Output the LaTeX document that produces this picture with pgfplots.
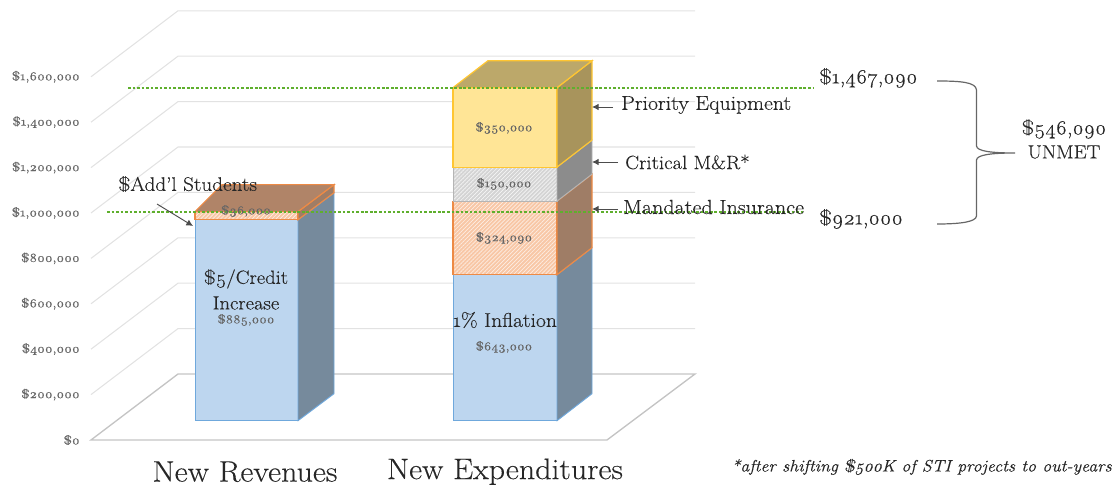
\documentclass[border=0pt]{standalone}
\usepackage{fontspec}
\usepackage{pgfplots}
\pgfplotsset{compat=1.18}
\usetikzlibrary{patterns,patterns.meta,arrows.meta}
\setmainfont{Latin Modern Roman}[Numbers=OldStyle,FakeStretch=1.08,FakeBold=0.3]
\definecolor{tickc}{HTML}{666666}
\definecolor{gridc}{HTML}{E2E2E2}
\definecolor{floorc}{HTML}{C4C4C4}
\definecolor{greenl}{RGB}{95,175,45}
\definecolor{bluef}{HTML}{BDD6EF}\definecolor{bluee}{HTML}{6FA8DC}\definecolor{blues}{HTML}{768A9C}
\definecolor{orangef}{HTML}{F8C7A6}\definecolor{orangee}{HTML}{ED8A45}\definecolor{oranges}{HTML}{9F7D66}\definecolor{oranget}{HTML}{B08468}
\definecolor{greyf}{HTML}{D4D4D4}\definecolor{greye}{HTML}{B5B5B5}\definecolor{greys}{HTML}{8C8C8C}
\definecolor{yellowf}{HTML}{FFE596}\definecolor{yellowe}{HTML}{FFC632}\definecolor{yellows}{HTML}{A8945C}\definecolor{yellowt}{HTML}{BCA86A}
\pgfplotsset{base/.style={
  scale only axis,width=837.75pt,height=368.25pt,
  xmin=0,xmax=1117,clip=false,
  axis line style={draw=none},tick style={draw=none},
  major tick length=0pt,scaled x ticks=false,scaled y ticks=false}}
\tikzset{
  hatchf/.style={postaction={pattern={Lines[angle=45,distance=2.1pt,line width=0.5pt]},pattern color=white!70!orangef}},
  hatchg/.style={postaction={pattern={Lines[angle=45,distance=2.1pt,line width=0.5pt]},pattern color=white!80!greyf}},
  dlab/.style={text=tickc,font=\fontsize{9}{10}\selectfont,inner sep=0pt},
  big/.style={text=black!85,font=\fontsize{#1}{16}\selectfont,inner sep=0pt},
  big/.default=14.3,
  ann/.style={black!70,line width=0.7pt,-{Latex[length=5pt,width=5pt]}}
}
\begin{document}
\begin{tikzpicture}
% back wall, floor and value axis: y=0 on the front edge of the floor
\begin{axis}[base,ymin=-224670,ymax=1938326,xtick=\empty,
  ytick={0,200000,400000,600000,800000,1000000,1200000,1400000,1600000},
  yticklabels={\$0,{\$200,000},{\$400,000},{\$600,000},{\$800,000},{\$1,000,000},{\$1,200,000},{\$1,400,000},{\$1,600,000}},
  yticklabel style={anchor=east,xshift=60pt,text=tickc,font=\fontsize{9.2}{10}\selectfont,inner sep=0pt}]
\addplot[gridc,line width=0.8pt] coordinates {(91,1600000)(178,1890749)(695,1890749)};
\addplot[gridc,line width=0.8pt] coordinates {(91,1400000)(178,1690749)(695,1690749)};
\addplot[gridc,line width=0.8pt] coordinates {(91,1200000)(178,1490749)(695,1490749)};
\addplot[gridc,line width=0.8pt] coordinates {(91,1000000)(178,1290749)(695,1290749)};
\addplot[gridc,line width=0.8pt] coordinates {(91,800000)(178,1090749)(695,1090749)};
\addplot[gridc,line width=0.8pt] coordinates {(91,600000)(178,890749)(695,890749)};
\addplot[gridc,line width=0.8pt] coordinates {(91,400000)(178,690749)(695,690749)};
\addplot[gridc,line width=0.8pt] coordinates {(91,200000)(178,490749)(695,490749)};
\addplot[floorc,line width=1pt] coordinates {(91,0)(178,290749)(695,290749)(607,0)(91,0)} -- cycle;
\end{axis}
% bars: y=0 on the front foot of the bars
\begin{axis}[base,ymin=-309692,ymax=1853304,ytick=\empty,
  xtick={245,505},xticklabels={New Revenues,New Expenditures},
  xticklabel style={anchor=center,yshift=14.5pt,text=black!85,font=\fontsize{22.2}{24}\selectfont,inner sep=0pt}]
% New Revenues
\addplot[fill=bluef,draw=bluee,line width=0.7pt] coordinates {(195,0)(298,0)(298,885000)(195,885000)} -- cycle;
\addplot[fill=blues,draw=bluee,line width=0.7pt] coordinates {(298,0)(334,118943)(334,1003943)(298,885000)} -- cycle;
\addplot[fill=orangef,draw=orangee,line width=0.9pt,hatchf] coordinates {(195,885000)(298,885000)(298,921000)(195,921000)} -- cycle;
\addplot[fill=oranges,draw=orangee,line width=0.9pt] coordinates {(298,885000)(334,1003943)(334,1039943)(298,921000)} -- cycle;
\addplot[fill=oranget,draw=orangee,line width=0.9pt] coordinates {(195,921000)(222,1039943)(334,1039943)(298,921000)} -- cycle;
% New Expenditures
\addplot[fill=bluef,draw=bluee,line width=0.7pt] coordinates {(453,0)(557,0)(557,643000)(453,643000)} -- cycle;
\addplot[fill=blues,draw=bluee,line width=0.7pt] coordinates {(557,0)(592,118943)(592,761943)(557,643000)} -- cycle;
\addplot[fill=orangef,draw=orangee,line width=0.9pt,hatchf] coordinates {(453,643000)(557,643000)(557,967090)(453,967090)} -- cycle;
\addplot[fill=oranges,draw=orangee,line width=0.9pt] coordinates {(557,643000)(592,761943)(592,1086033)(557,967090)} -- cycle;
\addplot[fill=greyf,draw=greye,line width=0.7pt,hatchg] coordinates {(453,967090)(557,967090)(557,1117090)(453,1117090)} -- cycle;
\addplot[fill=greys,draw=greye,line width=0.7pt] coordinates {(557,967090)(592,1086033)(592,1236033)(557,1117090)} -- cycle;
\addplot[fill=yellowf,draw=yellowe,line width=0.9pt] coordinates {(453,1117090)(557,1117090)(557,1467090)(453,1467090)} -- cycle;
\addplot[fill=yellows,draw=yellowe,line width=0.9pt] coordinates {(557,1117090)(592,1236033)(592,1586033)(557,1467090)} -- cycle;
\addplot[fill=yellowt,draw=yellowe,line width=0.9pt] coordinates {(453,1467090)(488,1586033)(592,1586033)(557,1467090)} -- cycle;
% funding and expenditure levels
\addplot[draw=greenl,line width=1.4pt,dash pattern=on 2pt off 1.4pt,no markers] coordinates {(107,921000)(803,921000)};
\addplot[draw=greenl,line width=1.4pt,dash pattern=on 2pt off 1.4pt,no markers] coordinates {(128,1467090)(813,1467090)};
\end{axis}
% annotations in picture pixels
\begin{axis}[base,ymin=0,ymax=491,y dir=reverse,xtick=\empty,ytick=\empty]
\node[dlab] at (axis cs:246,211) {\$36,000};
\node[dlab] at (axis cs:246,320) {\$885,000};
\node[dlab] at (axis cs:504,347) {\$643,000};
\node[dlab] at (axis cs:504,238) {\$324,090};
\node[dlab] at (axis cs:504,184) {\$150,000};
\node[dlab] at (axis cs:504,128) {\$350,000};
\node[big] at (axis cs:246,279) {\$5/Credit};
\node[big] at (axis cs:246,303) {Increase};
\node[big=15] at (axis cs:505,320) {1\% Inflation};
\node[big=14.7,anchor=west] at (axis cs:118,184) {\$Add’l Students};
\node[big=15.1,anchor=west] at (axis cs:621,105) {Priority Equipment};
\node[big=14.4,anchor=west] at (axis cs:625,162) {Critical M\&R*};
\node[big=15.3,anchor=west] at (axis cs:623,207) {Mandated Insurance};
\node[big=15.2,anchor=west] at (axis cs:819,78) {\$1,467,090};
\node[big=15.3,anchor=west] at (axis cs:819,219) {\$921,000};
\node[big=15] at (axis cs:1064,129) {\$546,090};
\node[big] at (axis cs:1064,152) {UNMET};
\node[anchor=east,inner sep=0pt,text=black!85,font=\fontsize{12.4}{14}\selectfont\itshape] at (axis cs:1112,467) {*after shifting \$500K of STI projects to out-years};
\draw[ann] (axis cs:157,204) -- (axis cs:193,226);
\draw[ann] (axis cs:613,107) -- (axis cs:592,107);
\draw[ann] (axis cs:618,162) -- (axis cs:592,162);
\draw[ann] (axis cs:618,209) -- (axis cs:592,209);
\draw[black!60,line width=0.9pt] (axis cs:937,81) .. controls (axis cs:960,81) and (axis cs:976,82) .. (axis cs:976.5,90)
  -- (axis cs:976.5,146) .. controls (axis cs:977,151) and (axis cs:990,153) .. (axis cs:1015,153)
  .. controls (axis cs:990,153) and (axis cs:977,155) .. (axis cs:976.5,160)
  -- (axis cs:976.5,216) .. controls (axis cs:976,222) and (axis cs:960,224) .. (axis cs:937,224);
\end{axis}
\end{tikzpicture}
\end{document}
